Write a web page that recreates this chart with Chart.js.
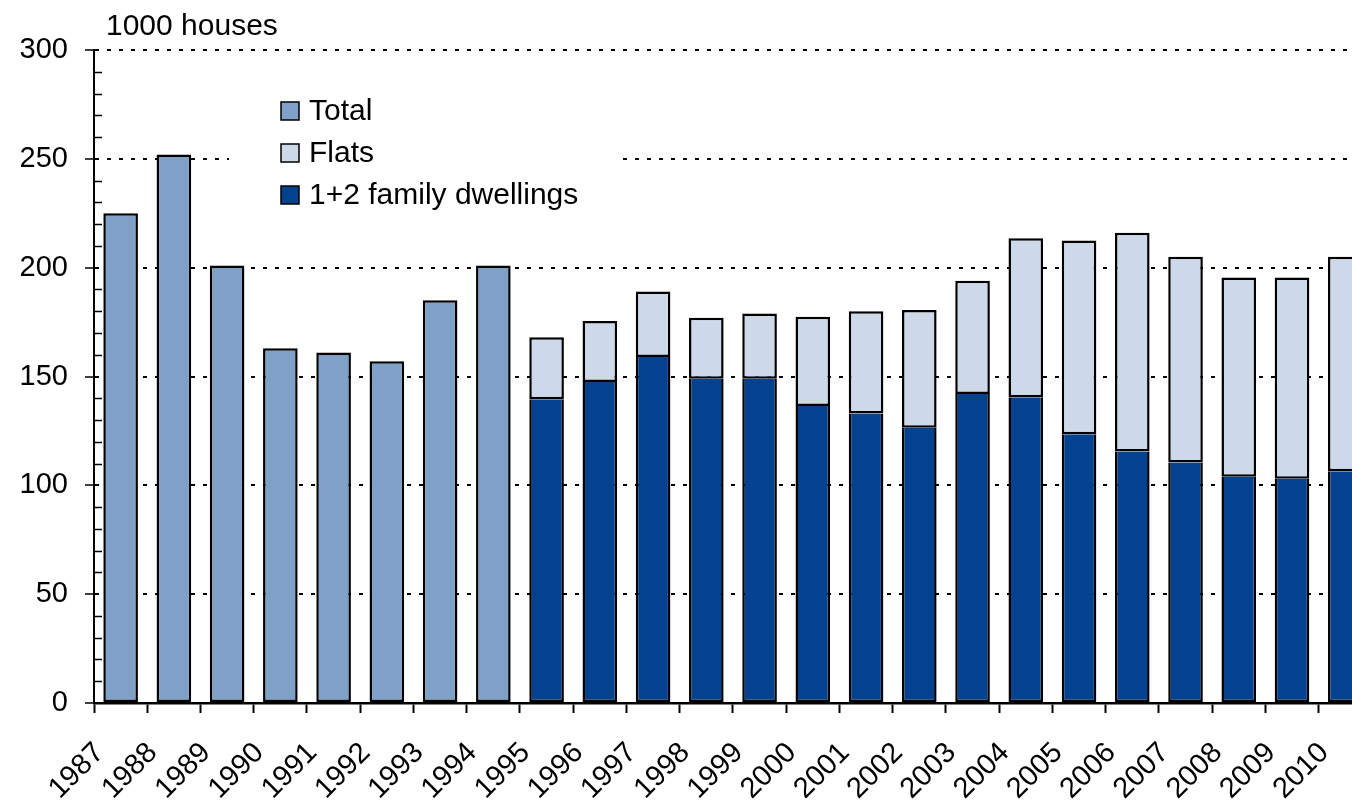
<!DOCTYPE html>
<html>
<head>
<meta charset="utf-8">
<script src="https://cdn.jsdelivr.net/npm/chart.js@4/dist/chart.umd.min.js"></script>
<style>
  html, body { margin: 0; padding: 0; overflow: hidden; background: #fff; }
  canvas { display: block; }
</style>
</head>
<body>
<canvas id="chart" width="1393" height="802"></canvas>
<script>
// data (1000 houses)
const years = ['1987','1988','1989','1990','1991','1992','1993','1994','1995','1996','1997','1998',
               '1999','2000','2001','2002','2003','2004','2005','2006','2007','2008','2009','2010'];
const totalOnly = [225, 252, 201, 163, 161, 157, 185, 201];            // 1987-1994
const familyDwellings = [139.5, 147.5, 159, 149, 149, 136.5, 133, 126.5,
                         142, 140.5, 123.5, 115.5, 110.5, 104, 103, 106.5]; // 1995-2010
const flats = [28.5, 28, 30, 28, 30, 41, 47, 54,
               52, 73, 89, 100.5, 94.5, 91.5, 92.5, 98.5];               // 1995-2010
const yMin = 0, yMax = 300, yStep = 50, yMinorStep = 10;

const FONT = "'Liberation Sans', Arial, sans-serif";
const colTotal = '#7fa0c7', colFlats = '#cdd8e8', colFamily = '#04428f';

const gap = (n) => Array(n).fill(null);

// minor tick marks (inside) + unit label + legend box
const extras = {
    id: 'extras',
    afterDraw(chart) {
        const ctx = chart.ctx;
        const y = chart.scales.y;
        const left = chart.chartArea.left;
        ctx.save();
        ctx.strokeStyle = '#000';
        ctx.lineWidth = 1.5;
        for (let v = yMin + yMinorStep; v < yMax; v += yMinorStep) {
            if (v % yStep === 0) continue;
            const py = Math.round(y.getPixelForValue(v)) + 0.5;
            ctx.beginPath(); ctx.moveTo(left, py); ctx.lineTo(left + 8, py); ctx.stroke();
        }
        // unit
        ctx.fillStyle = '#000';
        ctx.font = `30px ${FONT}`;
        ctx.textBaseline = 'alphabetic';
        ctx.textAlign = 'left';
        ctx.fillText('1000 houses', 106, 35);

        // legend
        ctx.fillStyle = '#fff';
        ctx.fillRect(229, 86, 393, 128);
        const order = [0, 2, 1];
        order.forEach((di, i) => {
            const ds = chart.data.datasets[di];
            const cy = 111 + i * 42;
            ctx.fillStyle = ds.backgroundColor;
            ctx.fillRect(281, cy - 9, 18, 18);
            ctx.strokeStyle = '#000';
            ctx.lineWidth = 1.5;
            ctx.strokeRect(281, cy - 9, 18, 18);
            ctx.fillStyle = '#000';
            ctx.font = `30px ${FONT}`;
            ctx.textBaseline = 'middle';
            ctx.fillText(ds.label, 309, cy + 1);
        });
        ctx.restore();
    }
};

new Chart(document.getElementById('chart'), {
    type: 'bar',
    data: {
        labels: years,
        datasets: [
            { label: 'Total', data: totalOnly.concat(gap(16)), backgroundColor: colTotal },
            { label: '1+2 family dwellings', data: gap(8).concat(familyDwellings), backgroundColor: colFamily, borderSkipped: 'top' },
            { label: 'Flats', data: gap(8).concat(flats), backgroundColor: colFlats }
        ]
    },
    options: {
        responsive: false,
        animation: false,
        layout: { padding: { top: 50, right: 6, left: 0, bottom: 0 } },
        datasets: {
            bar: { borderColor: '#000', borderWidth: 2.5, categoryPercentage: 1, barPercentage: 0.65, borderSkipped: false }
        },
        plugins: { legend: { display: false }, tooltip: { enabled: false } },
        scales: {
            x: {
                stacked: true,
                offset: true,
                grid: { offset: true, drawOnChartArea: false, drawTicks: true, tickLength: 10, tickColor: '#000', tickWidth: 2 },
                border: { display: true, color: '#000', width: 2.5 },
                ticks: {
                    color: '#000', font: { family: FONT, size: 29 },
                    maxRotation: 45, minRotation: 45, autoSkip: false,
                    labelOffset: -21, padding: 23
                },
                afterFit(scale) { scale.height = 99; }
            },
            y: {
                stacked: true,
                min: yMin, max: yMax,
                ticks: { stepSize: yStep, color: '#000', font: { family: FONT, size: 29 }, padding: 17 },
                grid: {
                    color: (c) => c.tick && c.tick.value === 0 ? 'rgba(0,0,0,0)' : '#000',
                    lineWidth: 2, tickLength: 9, tickColor: '#000', tickWidth: 1.5
                },
                border: { display: true, color: '#000', width: 2, dash: [4, 8] },
                afterFit(scale) { scale.width = 94; }
            }
        }
    },
    plugins: [extras]
});
</script>
</body>
</html>
